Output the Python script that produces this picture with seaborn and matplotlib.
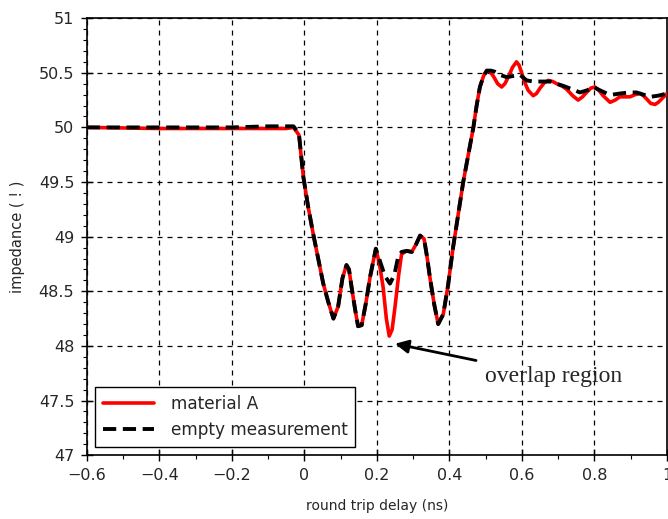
import numpy as np
import pandas as pd
import matplotlib
matplotlib.use("Agg")
import matplotlib.pyplot as plt
import seaborn as sns
from matplotlib.ticker import MultipleLocator

# material A (red)
red_x = [-0.6, -0.4, -0.2, -0.1, -0.05, -0.03, -0.015, -0.003, 0.01, 0.024, 0.038, 0.052, 0.066, 0.08,
         0.093, 0.105, 0.116, 0.123, 0.13, 0.14, 0.148, 0.158, 0.17, 0.181, 0.197, 0.207, 0.217,
         0.226, 0.234, 0.242, 0.25, 0.26, 0.268, 0.282, 0.296, 0.308, 0.319, 0.33, 0.338, 0.346,
         0.358, 0.369, 0.383, 0.396, 0.41, 0.424, 0.438, 0.452, 0.466, 0.475, 0.484, 0.494, 0.503,
         0.512, 0.521, 0.533, 0.544, 0.553, 0.562, 0.574, 0.585, 0.592, 0.599, 0.608, 0.617, 0.631,
         0.64, 0.65, 0.662, 0.673, 0.685, 0.696, 0.71, 0.723, 0.74, 0.755, 0.767, 0.778, 0.79,
         0.801, 0.812, 0.824, 0.843, 0.857, 0.87, 0.884, 0.898, 0.912, 0.926, 0.935, 0.944, 0.955,
         0.967, 0.976, 0.985, 1.0]
red_y = [50.0, 49.99, 49.99, 49.99, 49.99, 50.0, 49.93, 49.55, 49.28, 49.03, 48.8, 48.57, 48.4, 48.25,
         48.36, 48.62, 48.74, 48.7, 48.54, 48.33, 48.18, 48.19, 48.4, 48.63, 48.89, 48.75, 48.54,
         48.25, 48.09, 48.15, 48.36, 48.65, 48.84, 48.87, 48.86, 48.93, 49.01, 48.98, 48.82, 48.63,
         48.38, 48.2, 48.29, 48.55, 48.9, 49.2, 49.5, 49.75, 50.0, 50.2, 50.37, 50.47, 50.52,
         50.51, 50.47, 50.4, 50.37, 50.4, 50.46, 50.55, 50.6, 50.57, 50.5, 50.41, 50.34, 50.29,
         50.31, 50.36, 50.41, 50.43, 50.42, 50.4, 50.38, 50.35, 50.29, 50.25, 50.28, 50.32, 50.36,
         50.37, 50.34, 50.29, 50.23, 50.25, 50.28, 50.28, 50.28, 50.3, 50.31, 50.29, 50.26, 50.22,
         50.21, 50.23, 50.26, 50.31]

# empty measurement (black dashed)
blk_x = [-0.6, -0.4, -0.2, -0.1, -0.05, -0.03, -0.015, -0.003, 0.01, 0.024, 0.038, 0.052, 0.066, 0.08,
         0.093, 0.105, 0.116, 0.123, 0.13, 0.14, 0.148, 0.158, 0.17, 0.181, 0.197, 0.21, 0.222,
         0.236, 0.248, 0.259, 0.268, 0.282, 0.296, 0.308, 0.319, 0.33, 0.338, 0.346, 0.358, 0.369,
         0.383, 0.396, 0.41, 0.424, 0.438, 0.452, 0.466, 0.475, 0.484, 0.494, 0.503, 0.514, 0.525,
         0.54, 0.558, 0.575, 0.595, 0.613, 0.631, 0.655, 0.678, 0.695, 0.714, 0.738, 0.76, 0.78,
         0.797, 0.815, 0.834, 0.85, 0.87, 0.895, 0.916, 0.935, 0.953, 0.975, 1.0]
blk_y = [50.0, 50.0, 50.0, 50.01, 50.01, 50.01, 49.94, 49.55, 49.28, 49.03, 48.8, 48.57, 48.4, 48.25,
         48.36, 48.62, 48.74, 48.7, 48.54, 48.33, 48.18, 48.19, 48.4, 48.63, 48.89, 48.76, 48.64,
         48.57, 48.65, 48.82, 48.86, 48.87, 48.86, 48.93, 49.01, 48.98, 48.82, 48.63, 48.38, 48.2,
         48.29, 48.55, 48.9, 49.2, 49.5, 49.75, 50.0, 50.2, 50.37, 50.47, 50.52, 50.52, 50.51,
         50.48, 50.46, 50.47, 50.48, 50.43, 50.42, 50.42, 50.42, 50.4, 50.38, 50.35, 50.32, 50.34,
         50.37, 50.34, 50.31, 50.3, 50.31, 50.32, 50.32, 50.3, 50.28, 50.29, 50.31]

x_ticks = [-0.6, -0.4, -0.2, 0, 0.2, 0.4, 0.6, 0.8, 1]
x_tick_labels = ["\u22120.6", "\u22120.4", "\u22120.2", "0", "0.2", "0.4", "0.6", "0.8", "1"]
y_ticks = [47, 47.5, 48, 48.5, 49, 49.5, 50, 50.5, 51]
y_tick_labels = ["47", "47.5", "48", "48.5", "49", "49.5", "50", "50.5", "51"]

sns.set_style("ticks")
plt.rcParams["font.family"] = ["DejaVu Sans"]

df_red = pd.DataFrame({"x": red_x, "y": red_y})
df_blk = pd.DataFrame({"x": blk_x, "y": blk_y})

fig = plt.figure(figsize=(6.68, 5.19), dpi=100)
ax = fig.add_axes([0.130, 0.123, 0.8685, 0.842])

sns.lineplot(data=df_red, x="x", y="y", ax=ax, color="#ff0000", lw=2.6,
             label="material A", zorder=3)
sns.lineplot(data=df_blk, x="x", y="y", ax=ax, color="black", lw=2.8,
             label="empty measurement", zorder=4)
ax.lines[1].set_linestyle((0, (3.4, 1.7)))

ax.set_xlim(-0.6, 1.0)
ax.set_ylim(47, 51)
ax.set_xticks(x_ticks)
ax.set_xticklabels(x_tick_labels, fontsize=11.5)
ax.set_yticks(y_ticks)
ax.set_yticklabels(y_tick_labels, fontsize=11.5)
ax.xaxis.set_minor_locator(MultipleLocator(0.1))
ax.yaxis.set_minor_locator(MultipleLocator(0.1))
ax.tick_params(which="both", color="black", top=False, right=False)
ax.tick_params(which="major", direction="inout", length=8, width=1, pad=5)
ax.tick_params(which="minor", direction="out", length=3, width=0.8)
ax.grid(True, which="major", linestyle=(0, (4, 4)), color="black", lw=0.9)
for s in ax.spines.values():
    s.set_color("black")
    s.set_linewidth(1.2)

ax.set_xlabel("round trip delay (ns)", fontsize=10, labelpad=12)
ax.set_ylabel("impedance ( ! )", fontsize=10.5, labelpad=10)

leg = ax.legend(loc="lower left", fontsize=12.2, frameon=True, fancybox=False,
                edgecolor="black", framealpha=1, borderaxespad=0.5, handlelength=3.0,
                borderpad=0.45, labelspacing=0.5, handletextpad=1.0)
leg.get_frame().set_linewidth(1.0)
leg.set_zorder(10)

ax.annotate("overlap region", xy=(0.25, 48.02), xytext=(0.498, 47.72),
            fontsize=17, family=["Liberation Serif"], va="center", ha="left",
            arrowprops=dict(arrowstyle="-|>", color="black", lw=2.0,
                            mutation_scale=20, shrinkA=8, shrinkB=0))

fig.savefig("out.png", dpi=100)
